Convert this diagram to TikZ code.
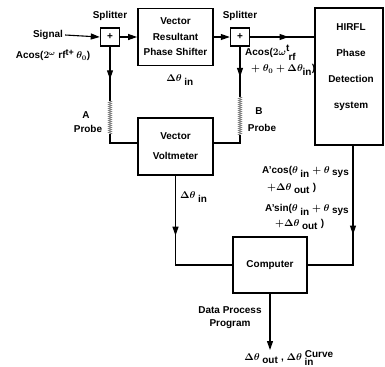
\documentclass[tikz,border=0pt]{standalone}
\usepackage{fontspec}
\setmainfont{Liberation Sans}
\usetikzlibrary{arrows.meta, decorations.markings, decorations.pathmorphing}

\begin{document}
\begin{tikzpicture}[x=1bp, y=-1bp,
      every node/.style={font=\bfseries\boldmath\fontsize{10}{12}\selectfont, inner sep=0pt},
      blk/.style={draw, line width=1.8bp, align=center},
      splitbox/.style={draw, line width=1.4bp, minimum width=19bp, minimum height=18bp},
      wire/.style={line width=1.1bp},
      arr/.style={wire, -{Triangle[length=9bp,width=6bp]}},
      midarr/.style={wire, postaction={decorate},
        decoration={markings, mark=at position #1 with {\arrow{Triangle[length=9bp,width=6bp]}}}},
      probeline/.style={draw=gray, line width=0.7bp, decorate,
        decoration={zigzag, segment length=2bp, amplitude=1.5bp}}]
    \path[use as bounding box] (0,0) rectangle (385,367);
    % blocks
    \node[blk, minimum width=75bp, minimum height=57bp,
          font=\bfseries\fontsize{10}{15.5}\selectfont] (vrps) at (175.5,37) {Vector\\Resultant\\Phase Shifter};
    \node[blk, minimum width=68bp, minimum height=137bp] (hirfl) at (349,76.5) {};
    \node[font=\bfseries\fontsize{10}{26}\selectfont, align=center] (hirfltxt) at (351,67)
          {HIRFL\\Phase\\Detection\\system};
    \node[blk, minimum width=75bp, minimum height=57bp,
          font=\bfseries\fontsize{10}{20}\selectfont] (vv) at (175.5,146.5) {Vector\\Voltmeter};
    \node[blk, minimum width=74bp, minimum height=56bp] (comp) at (270,265) {Computer};
    \node[splitbox] (sp1) at (110,37) {+};
    \node[splitbox] (sp2) at (240,37) {+};
    \node (spl1) at (110,16) {Splitter};
    \node (spl2) at (240,16) {Splitter};
    \node (sig) at (48,35) {Signal};
    \coordinate (pa1) at (110,101);
    \coordinate (pa2) at (110,134);
    \coordinate (pb1) at (240,97);
    \coordinate (pb2) at (240,135);
    \coordinate (res) at (270,350);
    % connectors
    \draw[arr] ([xshift=2bp]sig.east) -- (sp1.west);
    \draw[arr] (sp1.east) -- (vrps.west);
    \draw[arr] (vrps.east) -- (sp2.west);
    \draw[midarr=0.6] (sp2.east) -- (sp2.east -| hirfl.west);
    \draw[midarr=0.6] (sp1.south) -- (pa1);
    \path[probeline] (pa1) -- (pa2);
    \draw[wire] (pa2) |- ([yshift=3.5bp]vv.west);
    \draw[midarr=0.6] (sp2.south) -- (pb1);
    \path[probeline] (pb1) -- (pb2);
    \draw[wire] (pb2) |- ([yshift=3.5bp]vv.east);
    \draw[midarr=0.41] (vv.south) |- (comp.west);
    \draw[midarr=0.54] ([xshift=4bp]hirfl.south) |- (comp.east);
    \draw[arr] (comp.south) -- (res);
    % labels
    \node (ain) at (53,55) {Acos($2^{\omega}$ rf$^{\mbox{\small t+}}\,\theta_0$)};
    \node (dvrps) at (180,80) {$\Delta\theta_{\mbox{ in}}$};
    \node[anchor=west] (bin1) at (245,53) {Acos($2\omega_{\mbox{ rf}}^{\mbox{t}}$};
    \node[anchor=west] (bin2) at (251,70) {$+\ \theta_0 + \Delta\theta_{\mbox{in}}$)};
    \node (pra) at (86,115) {A};
    \node (prat) at (88,129) {Probe};
    \node (prb) at (259,111) {B};
    \node (prbt) at (262,128) {Probe};
    \node[anchor=west] (dvv) at (180,197) {$\Delta\theta_{\mbox{ in}}$};
    \node[anchor=west] (cos1) at (262,172) {A'cos($\theta_{\mbox{ in}} + \theta_{\mbox{ sys}}$};
    \node[anchor=west] (cos2) at (267,188) {$+\Delta\theta_{\mbox{ out}}$ )};
    \node[anchor=west] (sin1) at (265,210) {A'sin($\theta_{\mbox{ in}} + \theta_{\mbox{ sys}}$};
    \node[anchor=west] (sin2) at (275,224) {$+\Delta\theta_{\mbox{ out}}$ )};
    \node[align=center, font=\bfseries\fontsize{10}{13}\selectfont] (dpp) at (230,318) {Data Process\\Program};
    \node (curve) at (289,358) {$\Delta\theta_{\mbox{ out}}$ , $\Delta\theta_{\mbox{ in}}^{\mbox{ Curve}}$};
\end{tikzpicture}
\end{document}
